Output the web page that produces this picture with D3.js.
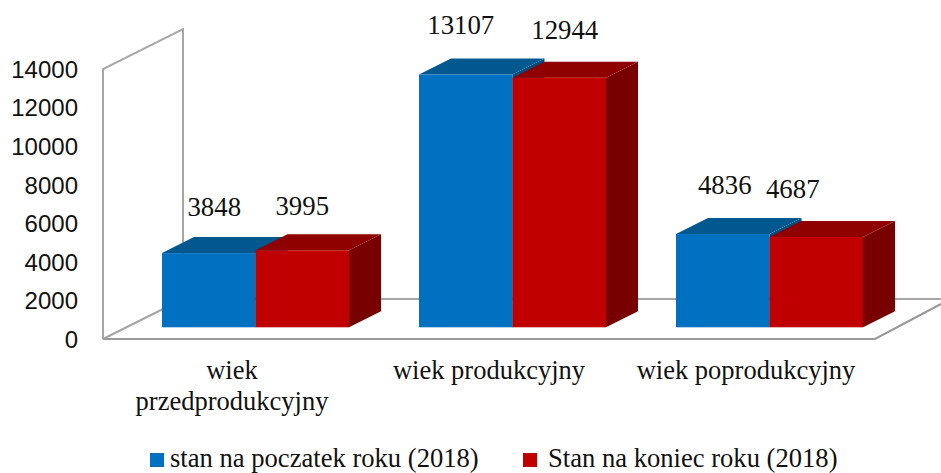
<!DOCTYPE html>
<html><head><meta charset="utf-8">
<script src="https://cdn.jsdelivr.net/npm/d3@7/dist/d3.min.js"></script>
<style>html,body{margin:0;padding:0;background:#fff}svg{display:block}</style>
</head><body><svg id="c" width="941" height="473"></svg>
<script>
const categories = [["wiek","przedprodukcyjny"],["wiek produkcyjny"],["wiek poprodukcyjny"]];
const seriesNames = ["stan na poczatek roku (2018)","Stan na koniec roku (2018)"];
const startValues = [3848,13107,4836];
const endValues = [3995,12944,4687];
const yTicks = [0,2000,4000,6000,8000,10000,12000,14000];
const labelNudgeX = [[5.5,-5,2],[0,5.5,-23.5]];
const labelNudgeY = [[-37,-40,-40],[-35,-38.5,-39]];

const faces = [
 {front:"#0070C0",top:"#00588F",side:"#004E80"},
 {front:"#C00000",top:"#8F0000",side:"#790000"}
];
const svg = d3.select("#c");
const serif = "'Liberation Serif','Times New Roman',serif";
const sans = "'Liberation Sans',Arial,sans-serif";

const y = d3.scaleLinear().domain([0,14000]).range([339,69]);
const x = d3.scaleBand().domain(d3.range(3)).range([127,898]);
const inner = d3.scaleBand().domain([0,1]).range([0,187]);
const grey = "#A6A6A6", dark="#999999";
const W=[103,183], depth=-40;

// walls and floor
const line=(pts,c,w)=>svg.append("polyline").attr("points",pts.join(" ")).attr("fill","none").attr("stroke",c).attr("stroke-width",w);
line([[W[0],y(0)],[W[0],y(14000)],[W[1],y(14000)+depth],[W[1],y(0)+depth],[941,y(0)+depth]],grey,2);
line([[W[0],y(0)],[W[1],y(0)+depth]],grey,2);
line([[W[0],y(0)],[875,y(0)],[941,y(0)-35]],dark,2);

// bars
const dx=32, dy=-16, planeShift=-11.7;
[startValues,endValues].forEach((vals,s)=>{
  const g=svg.append("g");
  vals.forEach((v,i)=>{
    const x0=x(i)+(x.bandwidth()-187)/2+inner(s), w=inner.bandwidth();
    const t=y(v)+planeShift, b=y(0)+planeShift;
    g.append("polygon").attr("fill",faces[s].side).attr("points",[[x0+w,t],[x0+w+dx,t+dy],[x0+w+dx,b+dy],[x0+w,b]].join(" "));
    g.append("polygon").attr("fill",faces[s].top).attr("points",[[x0,t],[x0+dx,t+dy],[x0+w+dx,t+dy],[x0+w,t]].join(" "));
    g.append("rect").attr("x",x0).attr("y",t).attr("width",w).attr("height",b-t).attr("fill",faces[s].front);
  });
});
// value labels
[startValues,endValues].forEach((vals,s)=>{
  vals.forEach((v,i)=>{
    const x0=x(i)+(x.bandwidth()-187)/2+inner(s)+inner.bandwidth()/2;
    svg.append("text").attr("x",x0+labelNudgeX[s][i]).attr("y",y(v)-12+labelNudgeY[s][i])
      .attr("text-anchor","middle").attr("font-family",serif).attr("font-size",26.8).attr("fill","#111").text(v);
  });
});
// y axis labels
const ax=svg.append("g").attr("transform","translate(90,0)").call(d3.axisLeft(y).tickValues(yTicks).tickSize(0).tickPadding(12).tickFormat(d3.format("d")));
ax.select(".domain").remove();
ax.selectAll("text").attr("font-family",sans).attr("font-size",24).attr("fill","#111").attr("dy","0.35em");
// category labels
categories.forEach((lines,i)=>{
  const cx=x(i)+x.bandwidth()/2-23.5;
  lines.forEach((t,j)=>{
    svg.append("text").attr("x",cx).attr("y",379+j*31).attr("text-anchor","middle")
      .attr("font-family",serif).attr("font-size",26.5).attr("fill","#111").text(t);
  });
});
// legend
const legendX=[150,523], legendTextX=[170,548];
seriesNames.forEach((n,i)=>{
  svg.append("rect").attr("x",legendX[i]).attr("y",453).attr("width",14).attr("height",14).attr("fill",faces[i].front);
  svg.append("text").attr("x",legendTextX[i]).attr("y",467).attr("font-family",serif).attr("font-size",26.6).attr("fill","#111").text(n);
});
</script></body></html>
